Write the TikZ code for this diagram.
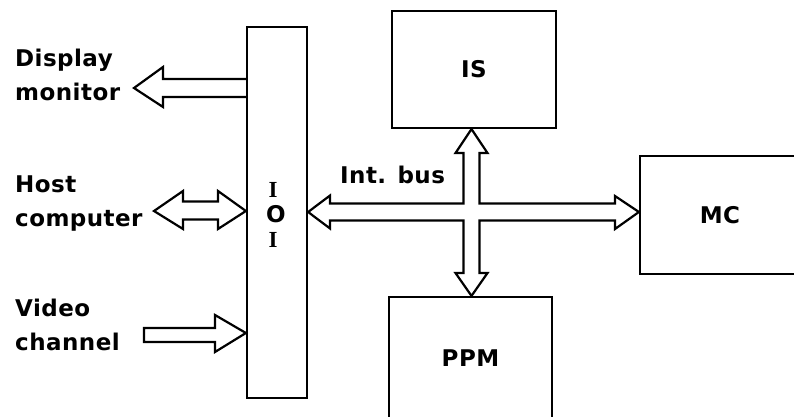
\documentclass[tikz,border=0pt]{standalone}
\usepackage{fontspec}
\setmainfont{DejaVu Sans}[LetterSpace=2]
\newfontfamily\serifI{Liberation Serif}
\begin{document}
\begin{tikzpicture}[x=1pt,y=-1pt,
  every node/.style={font=\fontsize{23}{27}\selectfont\bfseries, inner sep=0pt},
  blk/.style={draw, line width=2.2pt, rectangle},
  fat/.style={draw, line width=2.2pt, line join=miter, fill=white},
  lbl/.style={anchor=base west}]
\useasboundingbox (0,0) rectangle (794,417);
% blocks
\node[blk, minimum width=60pt, minimum height=371pt] (IOI) at (277,212.5) {};
\node[blk, minimum width=164pt, minimum height=117pt] (IS) at (474,69.5) {IS};
\node[blk, minimum width=160pt, minimum height=118pt] (MC) at (720,215) {MC};
\node[blk, minimum width=163pt, minimum height=122pt] (PPM) at (470.5,358) {PPM};
% IOI letters
\node (i1) at (273,190) {\serifI\bfseries I};
\node (o1) at (276,214) {O};
\node (i2) at (273,240) {\serifI\bfseries I};
% bus
\coordinate (c) at (471.5,212);
\draw[fat] (IOI.east |- c) -- (330,195.5) -- (330,203.5) -- (463.5,203.5)
  -- (463.5,153) -- (455.5,153) -- (c |- IS.south) -- (487.5,153) -- (479.5,153)
  -- (479.5,203.5) -- (615,203.5) -- (615,196) -- (MC.west |- c) -- (615,229)
  -- (615,220.5) -- (479.5,220.5) -- (479.5,273) -- (487.5,273) -- (c |- PPM.north)
  -- (455.5,273) -- (463.5,273) -- (463.5,220.5) -- (330,220.5) -- (330,228.5) -- cycle;
\node[anchor=base west] (bus) at (340,183) {Int. bus};
% display monitor (output)
\coordinate (dm) at (134,88);
\draw[fat] (IOI.west |- 0,79) -- (163,79) -- (163,67) -- (dm) -- (163,107) -- (163,97) -- (IOI.west |- 0,97);
% host computer (bidirectional)
\coordinate (hc) at (154,211);
\draw[fat] (hc) -- (183,191) -- (183,201.5) -- (218,201.5) -- (218,191)
  -- (IOI.west |- 0,211) -- (218,229) -- (218,219.5) -- (183,219.5) -- (183,229) -- cycle;
% video channel (input)
\coordinate (vc) at (144,328);
\draw[fat] (vc) -- (215,328) -- (215,315) -- (IOI.west |- 0,333) -- (215,352)
  -- (215,342) -- (144,342) -- cycle;
% labels
\node[lbl] (l1) at (15,67) {Display};
\node[lbl] (l2) at (15,100) {monitor};
\node[lbl] (l3) at (15,192) {Host};
\node[lbl] (l4) at (15,226) {computer};
\node[lbl] (l5) at (15,316) {Video};
\node[lbl] (l6) at (15,350) {channel};
\end{tikzpicture}
\end{document}
